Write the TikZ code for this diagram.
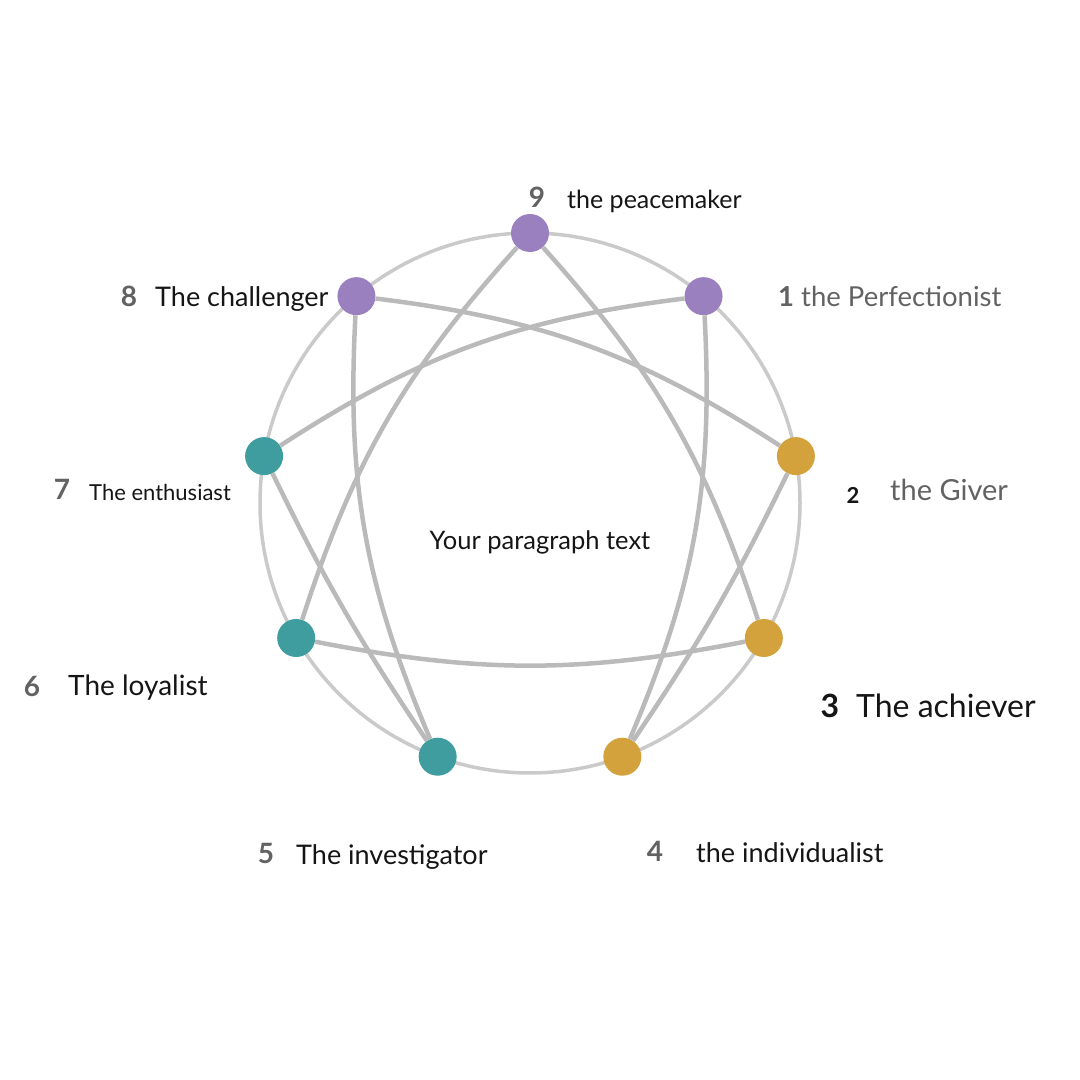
\documentclass[tikz,border=0pt]{standalone}
\usepackage{fontspec}
\setmainfont{Lato}
\usepackage{tikz}
\usetikzlibrary{positioning}
\definecolor{ringgray}{HTML}{CACACA}
\definecolor{linegray}{HTML}{BABABA}
\definecolor{purp}{HTML}{9B80C0}
\definecolor{tealdot}{HTML}{3F9DA0}
\definecolor{golddot}{HTML}{D3A23C}
\definecolor{numgray}{HTML}{626262}
\definecolor{ink}{HTML}{151515}
\newcommand{\fs}[1]{\fontsize{#1}{#1}\selectfont}
\tikzset{
  ennea/.style={every edge/.style={draw=linegray, line width=4.5pt}},
  dot/.style={circle, minimum size=38pt, inner sep=0pt},
  num/.style={anchor=base, inner sep=0pt, text=numgray, font=\fs{28}\bfseries},
  lbl/.style={anchor=base west, inner sep=0pt, text=ink},
}

\begin{document}
\begin{tikzpicture}[ennea, x=1pt, y=1pt]
  \useasboundingbox (0,0) rectangle (1080,1080);
  \draw[ringgray, line width=3.5pt] (530,577) circle (270);
  \foreach \k/\c in {9/purp,1/purp,2/golddot,3/golddot,4/golddot,5/tealdot,6/tealdot,7/tealdot,8/purp}
    \node[dot, fill=\c] (p\k) at ({530+270*cos(90-40*\k)},{577+270*sin(90-40*\k)}) {};
  % triangle
  \path (p9) edge[bend left=12] (p3);
  \path (p9) edge[bend right=12] (p6);
  \path (p6) edge[bend right=11] (p3);
  % hexad
  \path (p1) edge[bend left=13] (p4);
  \path (p8) edge[bend right=13] (p5);
  \path (p8) edge[bend left=13] (p2);
  \path (p1) edge[bend right=13] (p7);
  \path (p2) edge[bend left=4] (p4);
  \path (p7) edge[bend right=4] (p5);
  % labels
  \node[num] (n9) at (537,872) {9};
  \node[lbl, font=\fs{25}] (t9) at (567,871) {the peacemaker};
  \node[num] (n8) at (129,773) {8};
  \node[lbl, font=\fs{27}] (t8) at (155,773) {The challenger};
  \node[lbl, text=numgray, font=\fs{27.5}] (t1) at (778,773) {\textbf{1} the Perfectionist};
  \node[num] (n7) at (62,580) {7};
  \node[lbl, font=\fs{22}] (t7) at (89,579) {The enthusiast};
  \node[num, text=ink, font=\fs{22}\bfseries] (n2) at (853,576) {2};
  \node[lbl, text=numgray, font=\fs{29}] (t2) at (890,579) {the Giver};
  \node[num] (n6) at (32,383) {6};
  \node[lbl, font=\fs{28}] (t6) at (68,384) {The loyalist};
  \node[num, text=ink, font=\fs{32}\bfseries] (n3) at (830,362) {3};
  \node[lbl, font=\fs{32}] (t3) at (856,362) {The achiever};
  \node[num] (n5) at (266,216) {5};
  \node[lbl, font=\fs{27}] (t5) at (296,215) {The investigator};
  \node[num] (n4) at (655,218) {4};
  \node[lbl, font=\fs{27}] (t4) at (696,217) {the individualist};
  \node[anchor=base, inner sep=0pt, text=ink, font=\fs{25.5}] (para) at (540,530) {Your paragraph text};
\end{tikzpicture}
\end{document}
